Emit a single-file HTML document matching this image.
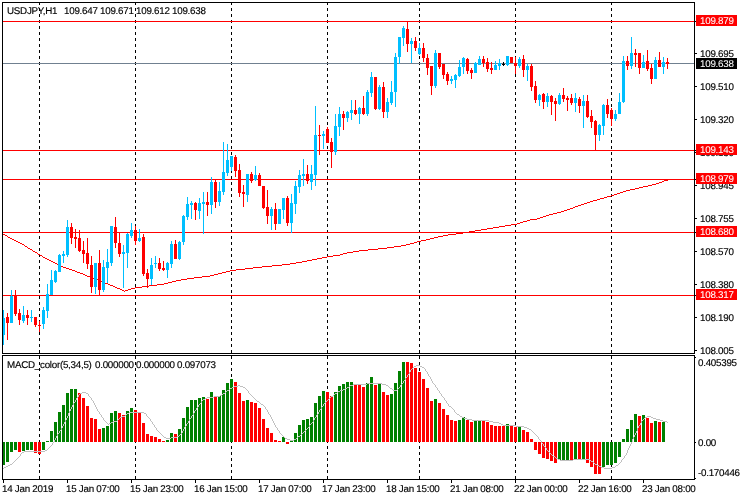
<!DOCTYPE html><html><head><meta charset="utf-8"><title>USDJPY H1</title><style>
html,body{margin:0;padding:0;background:#fff;}
#c{position:relative;width:740px;height:500px;overflow:hidden;background:#fff;font-family:"Liberation Sans",sans-serif;font-size:9.8px;letter-spacing:-0.26px;-webkit-text-stroke:0.15px #000;color:#000;line-height:10px;}
#c svg{position:absolute;left:0;top:0;}
.t{text-rendering:geometricPrecision;position:absolute;white-space:pre;height:10px;}
.w{color:#fff;-webkit-text-stroke:0.05px #fff;}
</style></head><body><div id="c">
<svg width="740" height="500" viewBox="0 0 740 500" shape-rendering="crispEdges">
<line x1="39.5" y1="2" x2="39.5" y2="353" stroke="#000" stroke-width="1" stroke-dasharray="3 3"/>
<line x1="39.5" y1="356" x2="39.5" y2="479" stroke="#000" stroke-width="1" stroke-dasharray="3 3"/>
<line x1="135.5" y1="2" x2="135.5" y2="353" stroke="#000" stroke-width="1" stroke-dasharray="3 3"/>
<line x1="135.5" y1="356" x2="135.5" y2="479" stroke="#000" stroke-width="1" stroke-dasharray="3 3"/>
<line x1="231.5" y1="2" x2="231.5" y2="353" stroke="#000" stroke-width="1" stroke-dasharray="3 3"/>
<line x1="231.5" y1="356" x2="231.5" y2="479" stroke="#000" stroke-width="1" stroke-dasharray="3 3"/>
<line x1="327.5" y1="2" x2="327.5" y2="353" stroke="#000" stroke-width="1" stroke-dasharray="3 3"/>
<line x1="327.5" y1="356" x2="327.5" y2="479" stroke="#000" stroke-width="1" stroke-dasharray="3 3"/>
<line x1="419.5" y1="2" x2="419.5" y2="353" stroke="#000" stroke-width="1" stroke-dasharray="3 3"/>
<line x1="419.5" y1="356" x2="419.5" y2="479" stroke="#000" stroke-width="1" stroke-dasharray="3 3"/>
<line x1="515.5" y1="2" x2="515.5" y2="353" stroke="#000" stroke-width="1" stroke-dasharray="3 3"/>
<line x1="515.5" y1="356" x2="515.5" y2="479" stroke="#000" stroke-width="1" stroke-dasharray="3 3"/>
<line x1="611.5" y1="2" x2="611.5" y2="353" stroke="#000" stroke-width="1" stroke-dasharray="3 3"/>
<line x1="611.5" y1="356" x2="611.5" y2="479" stroke="#000" stroke-width="1" stroke-dasharray="3 3"/>
<rect x="3" y="63" width="691" height="1" fill="#708090"/>
<rect x="3" y="21" width="691" height="1" fill="#FF0000"/>
<rect x="3" y="150" width="691" height="1" fill="#FF0000"/>
<rect x="3" y="179" width="691" height="1" fill="#FF0000"/>
<rect x="3" y="232" width="691" height="1" fill="#FF0000"/>
<rect x="3" y="295" width="691" height="1" fill="#FF0000"/>
<path d="M3 234.5h2M5 235.5h2M7 236.5h1M8 237.5h2M10 238.5h2M12 239.5h2M14 240.5h2M16 241.5h2M18 242.5h2M20 243.5h2M22 244.5h2M24 245.5h1M25 246.5h2M27 247.5h1M28 248.5h2M30 249.5h2M32 250.5h1M33 251.5h2M35 252.5h2M37 253.5h1M38 254.5h2M40 255.5h2M42 256.5h1M43 257.5h2M45 258.5h2M47 259.5h2M49 260.5h2M51 261.5h2M53 262.5h2M55 263.5h2M57 264.5h2M59 265.5h2M61 266.5h2M63 267.5h3M66 268.5h3M69 269.5h3M72 270.5h3M75 271.5h2M77 272.5h3M80 273.5h3M83 274.5h2M85 275.5h2M87 276.5h3M90 277.5h2M92 278.5h3M95 279.5h3M98 280.5h2M100 281.5h3M103 282.5h2M105 283.5h3M108 284.5h2M110 285.5h3M113 286.5h2M115 287.5h2M117 288.5h3M120 289.5h2M122 290.5h2M124 291.5h1M125 290.5h3M128 289.5h3M131 288.5h4M135 287.5h7M142 286.5h7M149 285.5h8M157 284.5h7M164 283.5h4M168 282.5h4M172 281.5h4M176 280.5h5M181 279.5h6M187 278.5h7M194 277.5h8M202 276.5h8M210 275.5h4M214 274.5h4M218 273.5h4M222 272.5h4M226 271.5h4M230 270.5h6M236 269.5h9M245 268.5h8M253 267.5h9M262 266.5h10M272 265.5h10M282 264.5h8M290 263.5h6M296 262.5h6M302 261.5h5M307 260.5h5M312 259.5h5M317 258.5h5M322 257.5h5M327 256.5h6M333 255.5h7M340 254.5h3M343 253.5h4M347 252.5h6M353 251.5h6M359 250.5h9M368 249.5h10M378 248.5h9M387 247.5h7M394 246.5h7M401 245.5h5M406 244.5h4M410 243.5h4M414 242.5h3M417 241.5h4M421 240.5h5M426 239.5h4M430 238.5h4M434 237.5h4M438 236.5h5M443 235.5h5M448 234.5h8M456 233.5h7M463 232.5h6M469 231.5h6M475 230.5h6M481 229.5h6M487 228.5h6M493 227.5h6M499 226.5h6M505 225.5h6M511 224.5h6M517 223.5h3M520 222.5h3M523 221.5h4M527 220.5h3M530 219.5h7M537 218.5h3M540 217.5h3M543 216.5h3M546 215.5h3M549 214.5h4M553 213.5h4M557 212.5h4M561 211.5h3M564 210.5h3M567 209.5h3M570 208.5h3M573 207.5h2M575 206.5h3M578 205.5h3M581 204.5h3M584 203.5h3M587 202.5h3M590 201.5h3M593 200.5h4M597 199.5h3M600 198.5h4M604 197.5h3M607 196.5h4M611 195.5h3M614 194.5h3M617 193.5h3M620 192.5h3M623 191.5h3M626 190.5h4M630 189.5h5M635 188.5h4M639 187.5h4M643 186.5h5M648 185.5h4M652 184.5h4M656 183.5h3M659 182.5h3M662 181.5h2M664 180.5h4" fill="none" stroke="#FF0000" stroke-width="1"/>
<rect x="3" y="310" width="1" height="35" fill="#00BFFF"/>
<rect x="3" y="318" width="2" height="17" fill="#00BFFF"/>
<rect x="7" y="313" width="1" height="27" fill="#FF0000"/>
<rect x="6" y="317" width="3" height="6" fill="#FF0000"/>
<rect x="11" y="290" width="1" height="33" fill="#00BFFF"/>
<rect x="10" y="296" width="3" height="27" fill="#00BFFF"/>
<rect x="15" y="290" width="1" height="26" fill="#FF0000"/>
<rect x="14" y="296" width="3" height="18" fill="#FF0000"/>
<rect x="19" y="309" width="1" height="16" fill="#FF0000"/>
<rect x="18" y="313" width="3" height="7" fill="#FF0000"/>
<rect x="23" y="306" width="1" height="17" fill="#00BFFF"/>
<rect x="22" y="315" width="3" height="6" fill="#00BFFF"/>
<rect x="27" y="310" width="1" height="15" fill="#FF0000"/>
<rect x="26" y="315" width="3" height="3" fill="#FF0000"/>
<rect x="31" y="310" width="1" height="12" fill="#00BFFF"/>
<rect x="30" y="317" width="3" height="1" fill="#00BFFF"/>
<rect x="35" y="317" width="1" height="10" fill="#FF0000"/>
<rect x="34" y="317" width="3" height="8" fill="#FF0000"/>
<rect x="39" y="321" width="1" height="11" fill="#FF0000"/>
<rect x="38" y="325" width="3" height="1" fill="#FF0000"/>
<rect x="43" y="307" width="1" height="22" fill="#00BFFF"/>
<rect x="42" y="310" width="3" height="14" fill="#00BFFF"/>
<rect x="47" y="284" width="1" height="34" fill="#00BFFF"/>
<rect x="46" y="294" width="3" height="17" fill="#00BFFF"/>
<rect x="51" y="270" width="1" height="25" fill="#00BFFF"/>
<rect x="50" y="280" width="3" height="15" fill="#00BFFF"/>
<rect x="55" y="270" width="1" height="13" fill="#00BFFF"/>
<rect x="54" y="271" width="3" height="11" fill="#00BFFF"/>
<rect x="59" y="254" width="1" height="18" fill="#00BFFF"/>
<rect x="58" y="255" width="3" height="17" fill="#00BFFF"/>
<rect x="63" y="251" width="1" height="12" fill="#00BFFF"/>
<rect x="62" y="254" width="3" height="2" fill="#00BFFF"/>
<rect x="67" y="220" width="1" height="37" fill="#00BFFF"/>
<rect x="66" y="227" width="3" height="28" fill="#00BFFF"/>
<rect x="71" y="223" width="1" height="21" fill="#FF0000"/>
<rect x="70" y="227" width="3" height="11" fill="#FF0000"/>
<rect x="75" y="229" width="1" height="19" fill="#FF0000"/>
<rect x="74" y="237" width="3" height="2" fill="#FF0000"/>
<rect x="79" y="230" width="1" height="22" fill="#FF0000"/>
<rect x="78" y="238" width="3" height="13" fill="#FF0000"/>
<rect x="83" y="241" width="1" height="22" fill="#FF0000"/>
<rect x="82" y="250" width="3" height="4" fill="#FF0000"/>
<rect x="87" y="238" width="1" height="31" fill="#FF0000"/>
<rect x="86" y="253" width="3" height="11" fill="#FF0000"/>
<rect x="91" y="256" width="1" height="37" fill="#FF0000"/>
<rect x="90" y="265" width="3" height="22" fill="#FF0000"/>
<rect x="95" y="263" width="1" height="31" fill="#00BFFF"/>
<rect x="94" y="263" width="3" height="24" fill="#00BFFF"/>
<rect x="99" y="250" width="1" height="45" fill="#FF0000"/>
<rect x="98" y="263" width="3" height="27" fill="#FF0000"/>
<rect x="103" y="260" width="1" height="32" fill="#00BFFF"/>
<rect x="102" y="267" width="3" height="23" fill="#00BFFF"/>
<rect x="107" y="249" width="1" height="34" fill="#00BFFF"/>
<rect x="106" y="262" width="3" height="6" fill="#00BFFF"/>
<rect x="111" y="226" width="1" height="40" fill="#00BFFF"/>
<rect x="110" y="226" width="3" height="37" fill="#00BFFF"/>
<rect x="115" y="217" width="1" height="31" fill="#FF0000"/>
<rect x="114" y="227" width="3" height="16" fill="#FF0000"/>
<rect x="119" y="233" width="1" height="24" fill="#FF0000"/>
<rect x="118" y="243" width="3" height="11" fill="#FF0000"/>
<rect x="123" y="245" width="1" height="43" fill="#00BFFF"/>
<rect x="122" y="252" width="3" height="2" fill="#00BFFF"/>
<rect x="127" y="233" width="1" height="35" fill="#00BFFF"/>
<rect x="126" y="234" width="3" height="19" fill="#00BFFF"/>
<rect x="131" y="223" width="1" height="15" fill="#00BFFF"/>
<rect x="130" y="230" width="3" height="6" fill="#00BFFF"/>
<rect x="135" y="226" width="1" height="19" fill="#FF0000"/>
<rect x="134" y="230" width="3" height="11" fill="#FF0000"/>
<rect x="139" y="229" width="1" height="13" fill="#00BFFF"/>
<rect x="138" y="238" width="3" height="3" fill="#00BFFF"/>
<rect x="143" y="234" width="1" height="42" fill="#FF0000"/>
<rect x="142" y="237" width="3" height="37" fill="#FF0000"/>
<rect x="147" y="269" width="1" height="19" fill="#FF0000"/>
<rect x="146" y="273" width="3" height="6" fill="#FF0000"/>
<rect x="151" y="258" width="1" height="27" fill="#00BFFF"/>
<rect x="150" y="265" width="3" height="14" fill="#00BFFF"/>
<rect x="155" y="256" width="1" height="12" fill="#00BFFF"/>
<rect x="154" y="263" width="3" height="1" fill="#00BFFF"/>
<rect x="159" y="258" width="1" height="13" fill="#FF0000"/>
<rect x="158" y="263" width="3" height="6" fill="#FF0000"/>
<rect x="163" y="261" width="1" height="10" fill="#FF0000"/>
<rect x="162" y="268" width="3" height="2" fill="#FF0000"/>
<rect x="167" y="262" width="1" height="16" fill="#00BFFF"/>
<rect x="166" y="263" width="3" height="7" fill="#00BFFF"/>
<rect x="171" y="241" width="1" height="27" fill="#00BFFF"/>
<rect x="170" y="244" width="3" height="20" fill="#00BFFF"/>
<rect x="175" y="240" width="1" height="19" fill="#FF0000"/>
<rect x="174" y="244" width="3" height="15" fill="#FF0000"/>
<rect x="179" y="241" width="1" height="19" fill="#00BFFF"/>
<rect x="178" y="242" width="3" height="17" fill="#00BFFF"/>
<rect x="183" y="215" width="1" height="30" fill="#00BFFF"/>
<rect x="182" y="216" width="3" height="26" fill="#00BFFF"/>
<rect x="187" y="197" width="1" height="23" fill="#00BFFF"/>
<rect x="186" y="204" width="3" height="13" fill="#00BFFF"/>
<rect x="191" y="201" width="1" height="18" fill="#00BFFF"/>
<rect x="190" y="203" width="3" height="2" fill="#00BFFF"/>
<rect x="195" y="202" width="1" height="18" fill="#FF0000"/>
<rect x="194" y="203" width="3" height="7" fill="#FF0000"/>
<rect x="199" y="198" width="1" height="21" fill="#00BFFF"/>
<rect x="198" y="203" width="3" height="8" fill="#00BFFF"/>
<rect x="203" y="192" width="1" height="42" fill="#00BFFF"/>
<rect x="202" y="202" width="3" height="2" fill="#00BFFF"/>
<rect x="207" y="192" width="1" height="24" fill="#FF0000"/>
<rect x="206" y="202" width="3" height="3" fill="#FF0000"/>
<rect x="211" y="177" width="1" height="37" fill="#00BFFF"/>
<rect x="210" y="182" width="3" height="23" fill="#00BFFF"/>
<rect x="215" y="180" width="1" height="28" fill="#FF0000"/>
<rect x="214" y="182" width="3" height="20" fill="#FF0000"/>
<rect x="219" y="182" width="1" height="24" fill="#00BFFF"/>
<rect x="218" y="191" width="3" height="11" fill="#00BFFF"/>
<rect x="223" y="142" width="1" height="53" fill="#00BFFF"/>
<rect x="222" y="172" width="3" height="20" fill="#00BFFF"/>
<rect x="227" y="144" width="1" height="32" fill="#00BFFF"/>
<rect x="226" y="160" width="3" height="13" fill="#00BFFF"/>
<rect x="231" y="156" width="1" height="15" fill="#00BFFF"/>
<rect x="230" y="156" width="3" height="11" fill="#00BFFF"/>
<rect x="235" y="155" width="1" height="22" fill="#FF0000"/>
<rect x="234" y="157" width="3" height="14" fill="#FF0000"/>
<rect x="239" y="164" width="1" height="33" fill="#FF0000"/>
<rect x="238" y="170" width="3" height="23" fill="#FF0000"/>
<rect x="243" y="185" width="1" height="22" fill="#FF0000"/>
<rect x="242" y="192" width="3" height="2" fill="#FF0000"/>
<rect x="247" y="174" width="1" height="28" fill="#00BFFF"/>
<rect x="246" y="174" width="3" height="21" fill="#00BFFF"/>
<rect x="251" y="172" width="1" height="11" fill="#FF0000"/>
<rect x="250" y="174" width="3" height="7" fill="#FF0000"/>
<rect x="255" y="166" width="1" height="15" fill="#00BFFF"/>
<rect x="254" y="175" width="3" height="5" fill="#00BFFF"/>
<rect x="259" y="173" width="1" height="13" fill="#FF0000"/>
<rect x="258" y="175" width="3" height="11" fill="#FF0000"/>
<rect x="263" y="186" width="1" height="23" fill="#FF0000"/>
<rect x="262" y="186" width="3" height="22" fill="#FF0000"/>
<rect x="267" y="190" width="1" height="34" fill="#FF0000"/>
<rect x="266" y="207" width="3" height="9" fill="#FF0000"/>
<rect x="271" y="207" width="1" height="23" fill="#00BFFF"/>
<rect x="270" y="209" width="3" height="7" fill="#00BFFF"/>
<rect x="275" y="203" width="1" height="27" fill="#FF0000"/>
<rect x="274" y="209" width="3" height="15" fill="#FF0000"/>
<rect x="279" y="209" width="1" height="15" fill="#00BFFF"/>
<rect x="278" y="209" width="3" height="15" fill="#00BFFF"/>
<rect x="283" y="198" width="1" height="21" fill="#00BFFF"/>
<rect x="282" y="198" width="3" height="12" fill="#00BFFF"/>
<rect x="287" y="196" width="1" height="30" fill="#FF0000"/>
<rect x="286" y="198" width="3" height="25" fill="#FF0000"/>
<rect x="291" y="194" width="1" height="39" fill="#00BFFF"/>
<rect x="290" y="203" width="3" height="20" fill="#00BFFF"/>
<rect x="295" y="181" width="1" height="33" fill="#00BFFF"/>
<rect x="294" y="186" width="3" height="18" fill="#00BFFF"/>
<rect x="299" y="170" width="1" height="23" fill="#00BFFF"/>
<rect x="298" y="175" width="3" height="12" fill="#00BFFF"/>
<rect x="303" y="159" width="1" height="27" fill="#00BFFF"/>
<rect x="302" y="174" width="3" height="2" fill="#00BFFF"/>
<rect x="307" y="165" width="1" height="19" fill="#FF0000"/>
<rect x="306" y="174" width="3" height="7" fill="#FF0000"/>
<rect x="311" y="165" width="1" height="25" fill="#00BFFF"/>
<rect x="310" y="174" width="3" height="8" fill="#00BFFF"/>
<rect x="315" y="106" width="1" height="80" fill="#00BFFF"/>
<rect x="314" y="135" width="3" height="40" fill="#00BFFF"/>
<rect x="319" y="125" width="1" height="30" fill="#FF0000"/>
<rect x="318" y="135" width="3" height="1" fill="#FF0000"/>
<rect x="323" y="131" width="1" height="18" fill="#00BFFF"/>
<rect x="322" y="134" width="3" height="2" fill="#00BFFF"/>
<rect x="327" y="127" width="1" height="16" fill="#FF0000"/>
<rect x="326" y="129" width="3" height="14" fill="#FF0000"/>
<rect x="331" y="138" width="1" height="30" fill="#FF0000"/>
<rect x="330" y="142" width="3" height="10" fill="#FF0000"/>
<rect x="335" y="114" width="1" height="41" fill="#00BFFF"/>
<rect x="334" y="126" width="3" height="26" fill="#00BFFF"/>
<rect x="339" y="107" width="1" height="29" fill="#00BFFF"/>
<rect x="338" y="114" width="3" height="13" fill="#00BFFF"/>
<rect x="343" y="111" width="1" height="19" fill="#FF0000"/>
<rect x="342" y="114" width="3" height="4" fill="#FF0000"/>
<rect x="347" y="111" width="1" height="11" fill="#00BFFF"/>
<rect x="346" y="112" width="3" height="6" fill="#00BFFF"/>
<rect x="351" y="100" width="1" height="20" fill="#00BFFF"/>
<rect x="350" y="110" width="3" height="3" fill="#00BFFF"/>
<rect x="355" y="100" width="1" height="15" fill="#FF0000"/>
<rect x="354" y="110" width="3" height="4" fill="#FF0000"/>
<rect x="359" y="107" width="1" height="17" fill="#00BFFF"/>
<rect x="358" y="108" width="3" height="6" fill="#00BFFF"/>
<rect x="363" y="96" width="1" height="19" fill="#FF0000"/>
<rect x="362" y="108" width="3" height="6" fill="#FF0000"/>
<rect x="367" y="90" width="1" height="26" fill="#00BFFF"/>
<rect x="366" y="92" width="3" height="22" fill="#00BFFF"/>
<rect x="371" y="72" width="1" height="25" fill="#00BFFF"/>
<rect x="370" y="77" width="3" height="16" fill="#00BFFF"/>
<rect x="375" y="77" width="1" height="33" fill="#FF0000"/>
<rect x="374" y="77" width="3" height="32" fill="#FF0000"/>
<rect x="379" y="85" width="1" height="25" fill="#00BFFF"/>
<rect x="378" y="87" width="3" height="22" fill="#00BFFF"/>
<rect x="383" y="82" width="1" height="36" fill="#FF0000"/>
<rect x="382" y="87" width="3" height="25" fill="#FF0000"/>
<rect x="387" y="98" width="1" height="20" fill="#00BFFF"/>
<rect x="386" y="102" width="3" height="10" fill="#00BFFF"/>
<rect x="391" y="81" width="1" height="24" fill="#00BFFF"/>
<rect x="390" y="92" width="3" height="11" fill="#00BFFF"/>
<rect x="395" y="53" width="1" height="54" fill="#00BFFF"/>
<rect x="394" y="57" width="3" height="35" fill="#00BFFF"/>
<rect x="399" y="37" width="1" height="27" fill="#00BFFF"/>
<rect x="398" y="37" width="3" height="20" fill="#00BFFF"/>
<rect x="403" y="26" width="1" height="20" fill="#00BFFF"/>
<rect x="402" y="28" width="3" height="10" fill="#00BFFF"/>
<rect x="407" y="21" width="1" height="31" fill="#FF0000"/>
<rect x="406" y="29" width="3" height="15" fill="#FF0000"/>
<rect x="411" y="38" width="1" height="25" fill="#00BFFF"/>
<rect x="410" y="41" width="3" height="3" fill="#00BFFF"/>
<rect x="415" y="37" width="1" height="14" fill="#FF0000"/>
<rect x="414" y="41" width="3" height="7" fill="#FF0000"/>
<rect x="419" y="43" width="1" height="12" fill="#00BFFF"/>
<rect x="418" y="48" width="3" height="6" fill="#00BFFF"/>
<rect x="423" y="43" width="1" height="19" fill="#FF0000"/>
<rect x="422" y="48" width="3" height="10" fill="#FF0000"/>
<rect x="427" y="54" width="1" height="21" fill="#FF0000"/>
<rect x="426" y="58" width="3" height="10" fill="#FF0000"/>
<rect x="431" y="66" width="1" height="29" fill="#FF0000"/>
<rect x="430" y="66" width="3" height="20" fill="#FF0000"/>
<rect x="435" y="50" width="1" height="38" fill="#00BFFF"/>
<rect x="434" y="53" width="3" height="33" fill="#00BFFF"/>
<rect x="439" y="53" width="1" height="16" fill="#FF0000"/>
<rect x="438" y="53" width="3" height="14" fill="#FF0000"/>
<rect x="443" y="64" width="1" height="15" fill="#FF0000"/>
<rect x="442" y="64" width="3" height="11" fill="#FF0000"/>
<rect x="447" y="72" width="1" height="13" fill="#FF0000"/>
<rect x="446" y="74" width="3" height="7" fill="#FF0000"/>
<rect x="451" y="76" width="1" height="8" fill="#00BFFF"/>
<rect x="450" y="79" width="3" height="2" fill="#00BFFF"/>
<rect x="455" y="74" width="1" height="14" fill="#00BFFF"/>
<rect x="454" y="75" width="3" height="5" fill="#00BFFF"/>
<rect x="459" y="60" width="1" height="17" fill="#00BFFF"/>
<rect x="458" y="67" width="3" height="9" fill="#00BFFF"/>
<rect x="463" y="57" width="1" height="17" fill="#00BFFF"/>
<rect x="462" y="58" width="3" height="9" fill="#00BFFF"/>
<rect x="467" y="58" width="1" height="16" fill="#FF0000"/>
<rect x="466" y="59" width="3" height="12" fill="#FF0000"/>
<rect x="471" y="68" width="1" height="11" fill="#FF0000"/>
<rect x="470" y="70" width="3" height="3" fill="#FF0000"/>
<rect x="475" y="62" width="1" height="11" fill="#00BFFF"/>
<rect x="474" y="63" width="3" height="10" fill="#00BFFF"/>
<rect x="479" y="56" width="1" height="9" fill="#00BFFF"/>
<rect x="478" y="59" width="3" height="6" fill="#00BFFF"/>
<rect x="483" y="56" width="1" height="11" fill="#FF0000"/>
<rect x="482" y="59" width="3" height="4" fill="#FF0000"/>
<rect x="487" y="58" width="1" height="14" fill="#FF0000"/>
<rect x="486" y="62" width="3" height="7" fill="#FF0000"/>
<rect x="491" y="62" width="1" height="12" fill="#FF0000"/>
<rect x="490" y="68" width="3" height="2" fill="#FF0000"/>
<rect x="495" y="61" width="1" height="9" fill="#00BFFF"/>
<rect x="494" y="65" width="3" height="5" fill="#00BFFF"/>
<rect x="499" y="59" width="1" height="11" fill="#00BFFF"/>
<rect x="498" y="63" width="3" height="3" fill="#00BFFF"/>
<rect x="503" y="62" width="1" height="4" fill="#000"/>
<rect x="502" y="64" width="3" height="1" fill="#000"/>
<rect x="507" y="56" width="1" height="10" fill="#00BFFF"/>
<rect x="506" y="56" width="3" height="9" fill="#00BFFF"/>
<rect x="511" y="57" width="1" height="6" fill="#FF0000"/>
<rect x="510" y="57" width="3" height="6" fill="#FF0000"/>
<rect x="515" y="57" width="1" height="17" fill="#FF0000"/>
<rect x="514" y="63" width="3" height="3" fill="#FF0000"/>
<rect x="519" y="57" width="1" height="11" fill="#00BFFF"/>
<rect x="518" y="59" width="3" height="7" fill="#00BFFF"/>
<rect x="523" y="55" width="1" height="22" fill="#FF0000"/>
<rect x="522" y="59" width="3" height="11" fill="#FF0000"/>
<rect x="527" y="64" width="1" height="17" fill="#00BFFF"/>
<rect x="526" y="66" width="3" height="4" fill="#00BFFF"/>
<rect x="531" y="64" width="1" height="27" fill="#FF0000"/>
<rect x="530" y="66" width="3" height="21" fill="#FF0000"/>
<rect x="535" y="81" width="1" height="22" fill="#FF0000"/>
<rect x="534" y="86" width="3" height="14" fill="#FF0000"/>
<rect x="539" y="94" width="1" height="12" fill="#00BFFF"/>
<rect x="538" y="95" width="3" height="5" fill="#00BFFF"/>
<rect x="543" y="93" width="1" height="16" fill="#FF0000"/>
<rect x="542" y="94" width="3" height="8" fill="#FF0000"/>
<rect x="547" y="93" width="1" height="14" fill="#00BFFF"/>
<rect x="546" y="96" width="3" height="6" fill="#00BFFF"/>
<rect x="551" y="95" width="1" height="20" fill="#FF0000"/>
<rect x="550" y="96" width="3" height="6" fill="#FF0000"/>
<rect x="555" y="98" width="1" height="23" fill="#FF0000"/>
<rect x="554" y="101" width="3" height="3" fill="#FF0000"/>
<rect x="559" y="93" width="1" height="12" fill="#00BFFF"/>
<rect x="558" y="95" width="3" height="9" fill="#00BFFF"/>
<rect x="563" y="88" width="1" height="14" fill="#FF0000"/>
<rect x="562" y="95" width="3" height="4" fill="#FF0000"/>
<rect x="567" y="96" width="1" height="15" fill="#FF0000"/>
<rect x="566" y="98" width="3" height="2" fill="#FF0000"/>
<rect x="571" y="94" width="1" height="11" fill="#FF0000"/>
<rect x="570" y="98" width="3" height="5" fill="#FF0000"/>
<rect x="575" y="93" width="1" height="19" fill="#00BFFF"/>
<rect x="574" y="98" width="3" height="5" fill="#00BFFF"/>
<rect x="579" y="97" width="1" height="16" fill="#FF0000"/>
<rect x="578" y="99" width="3" height="7" fill="#FF0000"/>
<rect x="583" y="95" width="1" height="33" fill="#00BFFF"/>
<rect x="582" y="101" width="3" height="5" fill="#00BFFF"/>
<rect x="587" y="95" width="1" height="23" fill="#FF0000"/>
<rect x="586" y="101" width="3" height="16" fill="#FF0000"/>
<rect x="591" y="110" width="1" height="18" fill="#FF0000"/>
<rect x="590" y="116" width="3" height="6" fill="#FF0000"/>
<rect x="595" y="120" width="1" height="31" fill="#FF0000"/>
<rect x="594" y="121" width="3" height="14" fill="#FF0000"/>
<rect x="599" y="124" width="1" height="17" fill="#00BFFF"/>
<rect x="598" y="125" width="3" height="10" fill="#00BFFF"/>
<rect x="603" y="104" width="1" height="31" fill="#00BFFF"/>
<rect x="602" y="105" width="3" height="21" fill="#00BFFF"/>
<rect x="607" y="99" width="1" height="19" fill="#FF0000"/>
<rect x="606" y="105" width="3" height="9" fill="#FF0000"/>
<rect x="611" y="108" width="1" height="18" fill="#FF0000"/>
<rect x="610" y="110" width="3" height="9" fill="#FF0000"/>
<rect x="615" y="110" width="1" height="11" fill="#00BFFF"/>
<rect x="614" y="114" width="3" height="5" fill="#00BFFF"/>
<rect x="619" y="93" width="1" height="21" fill="#00BFFF"/>
<rect x="618" y="102" width="3" height="12" fill="#00BFFF"/>
<rect x="623" y="56" width="1" height="47" fill="#00BFFF"/>
<rect x="622" y="61" width="3" height="41" fill="#00BFFF"/>
<rect x="627" y="56" width="1" height="14" fill="#FF0000"/>
<rect x="626" y="61" width="3" height="5" fill="#FF0000"/>
<rect x="631" y="37" width="1" height="32" fill="#00BFFF"/>
<rect x="630" y="53" width="3" height="13" fill="#00BFFF"/>
<rect x="635" y="49" width="1" height="18" fill="#FF0000"/>
<rect x="634" y="53" width="3" height="2" fill="#FF0000"/>
<rect x="639" y="53" width="1" height="21" fill="#FF0000"/>
<rect x="638" y="53" width="3" height="15" fill="#FF0000"/>
<rect x="643" y="55" width="1" height="13" fill="#00BFFF"/>
<rect x="642" y="62" width="3" height="6" fill="#00BFFF"/>
<rect x="647" y="50" width="1" height="21" fill="#FF0000"/>
<rect x="646" y="61" width="3" height="8" fill="#FF0000"/>
<rect x="651" y="64" width="1" height="20" fill="#FF0000"/>
<rect x="650" y="68" width="3" height="11" fill="#FF0000"/>
<rect x="655" y="57" width="1" height="22" fill="#00BFFF"/>
<rect x="654" y="60" width="3" height="19" fill="#00BFFF"/>
<rect x="659" y="52" width="1" height="15" fill="#FF0000"/>
<rect x="658" y="60" width="3" height="7" fill="#FF0000"/>
<rect x="663" y="57" width="1" height="17" fill="#00BFFF"/>
<rect x="662" y="62" width="3" height="5" fill="#00BFFF"/>
<rect x="667" y="58" width="1" height="11" fill="#FF0000"/>
<rect x="666" y="62" width="3" height="2" fill="#FF0000"/>
<rect x="3" y="442" width="2" height="23" fill="#008000"/>
<rect x="6" y="442" width="3" height="20" fill="#008000"/>
<rect x="10" y="442" width="3" height="10" fill="#008000"/>
<rect x="14" y="442" width="3" height="8" fill="#008000"/>
<rect x="18" y="442" width="3" height="10" fill="#FF0000"/>
<rect x="22" y="442" width="3" height="9" fill="#008000"/>
<rect x="26" y="442" width="3" height="8" fill="#008000"/>
<rect x="30" y="442" width="3" height="8" fill="#008000"/>
<rect x="34" y="442" width="3" height="11" fill="#FF0000"/>
<rect x="38" y="442" width="3" height="12" fill="#FF0000"/>
<rect x="42" y="442" width="3" height="8" fill="#008000"/>
<rect x="46" y="441" width="3" height="1" fill="#008000"/>
<rect x="50" y="431" width="3" height="11" fill="#008000"/>
<rect x="54" y="422" width="3" height="20" fill="#008000"/>
<rect x="58" y="412" width="3" height="30" fill="#008000"/>
<rect x="62" y="405" width="3" height="37" fill="#008000"/>
<rect x="66" y="393" width="3" height="49" fill="#008000"/>
<rect x="70" y="389" width="3" height="53" fill="#008000"/>
<rect x="74" y="389" width="3" height="53" fill="#008000"/>
<rect x="78" y="393" width="3" height="49" fill="#FF0000"/>
<rect x="82" y="398" width="3" height="44" fill="#FF0000"/>
<rect x="86" y="406" width="3" height="36" fill="#FF0000"/>
<rect x="90" y="418" width="3" height="24" fill="#FF0000"/>
<rect x="94" y="419" width="3" height="23" fill="#FF0000"/>
<rect x="98" y="429" width="3" height="13" fill="#FF0000"/>
<rect x="102" y="428" width="3" height="14" fill="#008000"/>
<rect x="106" y="426" width="3" height="16" fill="#008000"/>
<rect x="110" y="413" width="3" height="29" fill="#008000"/>
<rect x="114" y="411" width="3" height="31" fill="#008000"/>
<rect x="118" y="413" width="3" height="29" fill="#FF0000"/>
<rect x="122" y="415" width="3" height="27" fill="#FF0000"/>
<rect x="126" y="411" width="3" height="31" fill="#008000"/>
<rect x="130" y="408" width="3" height="34" fill="#008000"/>
<rect x="134" y="410" width="3" height="32" fill="#FF0000"/>
<rect x="138" y="412" width="3" height="30" fill="#FF0000"/>
<rect x="142" y="423" width="3" height="19" fill="#FF0000"/>
<rect x="146" y="434" width="3" height="8" fill="#FF0000"/>
<rect x="150" y="436" width="3" height="6" fill="#FF0000"/>
<rect x="154" y="437" width="3" height="5" fill="#FF0000"/>
<rect x="158" y="439" width="3" height="3" fill="#FF0000"/>
<rect x="162" y="441" width="3" height="1" fill="#FF0000"/>
<rect x="166" y="440" width="3" height="2" fill="#008000"/>
<rect x="170" y="433" width="3" height="9" fill="#008000"/>
<rect x="174" y="434" width="3" height="8" fill="#FF0000"/>
<rect x="178" y="429" width="3" height="13" fill="#008000"/>
<rect x="182" y="418" width="3" height="24" fill="#008000"/>
<rect x="186" y="407" width="3" height="35" fill="#008000"/>
<rect x="190" y="400" width="3" height="42" fill="#008000"/>
<rect x="194" y="400" width="3" height="42" fill="#008000"/>
<rect x="198" y="398" width="3" height="44" fill="#008000"/>
<rect x="202" y="397" width="3" height="45" fill="#008000"/>
<rect x="206" y="399" width="3" height="43" fill="#FF0000"/>
<rect x="210" y="392" width="3" height="50" fill="#008000"/>
<rect x="214" y="397" width="3" height="45" fill="#FF0000"/>
<rect x="218" y="396" width="3" height="46" fill="#008000"/>
<rect x="222" y="390" width="3" height="52" fill="#008000"/>
<rect x="226" y="383" width="3" height="59" fill="#008000"/>
<rect x="230" y="379" width="3" height="63" fill="#008000"/>
<rect x="234" y="382" width="3" height="60" fill="#FF0000"/>
<rect x="238" y="393" width="3" height="49" fill="#FF0000"/>
<rect x="242" y="401" width="3" height="41" fill="#FF0000"/>
<rect x="246" y="400" width="3" height="42" fill="#008000"/>
<rect x="250" y="402" width="3" height="40" fill="#FF0000"/>
<rect x="254" y="403" width="3" height="39" fill="#FF0000"/>
<rect x="258" y="408" width="3" height="34" fill="#FF0000"/>
<rect x="262" y="419" width="3" height="23" fill="#FF0000"/>
<rect x="266" y="428" width="3" height="14" fill="#FF0000"/>
<rect x="270" y="433" width="3" height="9" fill="#FF0000"/>
<rect x="274" y="440" width="3" height="2" fill="#FF0000"/>
<rect x="278" y="441" width="3" height="1" fill="#FF0000"/>
<rect x="282" y="437" width="3" height="5" fill="#008000"/>
<rect x="286" y="442" width="3" height="2" fill="#FF0000"/>
<rect x="290" y="441" width="3" height="1" fill="#008000"/>
<rect x="294" y="433" width="3" height="9" fill="#008000"/>
<rect x="298" y="425" width="3" height="17" fill="#008000"/>
<rect x="302" y="420" width="3" height="22" fill="#008000"/>
<rect x="306" y="419" width="3" height="23" fill="#008000"/>
<rect x="310" y="417" width="3" height="25" fill="#008000"/>
<rect x="314" y="403" width="3" height="39" fill="#008000"/>
<rect x="318" y="396" width="3" height="46" fill="#008000"/>
<rect x="322" y="391" width="3" height="51" fill="#008000"/>
<rect x="326" y="392" width="3" height="50" fill="#FF0000"/>
<rect x="330" y="396" width="3" height="46" fill="#FF0000"/>
<rect x="334" y="392" width="3" height="50" fill="#008000"/>
<rect x="338" y="386" width="3" height="56" fill="#008000"/>
<rect x="342" y="384" width="3" height="58" fill="#008000"/>
<rect x="346" y="382" width="3" height="60" fill="#008000"/>
<rect x="350" y="382" width="3" height="60" fill="#008000"/>
<rect x="354" y="385" width="3" height="57" fill="#FF0000"/>
<rect x="358" y="385" width="3" height="57" fill="#FF0000"/>
<rect x="362" y="387" width="3" height="55" fill="#FF0000"/>
<rect x="366" y="383" width="3" height="59" fill="#008000"/>
<rect x="370" y="377" width="3" height="65" fill="#008000"/>
<rect x="374" y="385" width="3" height="57" fill="#FF0000"/>
<rect x="378" y="384" width="3" height="58" fill="#008000"/>
<rect x="382" y="392" width="3" height="50" fill="#FF0000"/>
<rect x="386" y="395" width="3" height="47" fill="#FF0000"/>
<rect x="390" y="394" width="3" height="48" fill="#008000"/>
<rect x="394" y="383" width="3" height="59" fill="#008000"/>
<rect x="398" y="371" width="3" height="71" fill="#008000"/>
<rect x="402" y="362" width="3" height="80" fill="#008000"/>
<rect x="406" y="362" width="3" height="80" fill="#FF0000"/>
<rect x="410" y="363" width="3" height="79" fill="#FF0000"/>
<rect x="414" y="368" width="3" height="74" fill="#FF0000"/>
<rect x="418" y="372" width="3" height="70" fill="#FF0000"/>
<rect x="422" y="379" width="3" height="63" fill="#FF0000"/>
<rect x="426" y="388" width="3" height="54" fill="#FF0000"/>
<rect x="430" y="401" width="3" height="41" fill="#FF0000"/>
<rect x="434" y="399" width="3" height="43" fill="#008000"/>
<rect x="438" y="403" width="3" height="39" fill="#FF0000"/>
<rect x="442" y="409" width="3" height="33" fill="#FF0000"/>
<rect x="446" y="415" width="3" height="27" fill="#FF0000"/>
<rect x="450" y="420" width="3" height="22" fill="#FF0000"/>
<rect x="454" y="421" width="3" height="21" fill="#FF0000"/>
<rect x="458" y="420" width="3" height="22" fill="#008000"/>
<rect x="462" y="417" width="3" height="25" fill="#008000"/>
<rect x="466" y="420" width="3" height="22" fill="#FF0000"/>
<rect x="470" y="422" width="3" height="20" fill="#FF0000"/>
<rect x="474" y="421" width="3" height="21" fill="#008000"/>
<rect x="478" y="421" width="3" height="21" fill="#008000"/>
<rect x="482" y="421" width="3" height="21" fill="#FF0000"/>
<rect x="486" y="422" width="3" height="20" fill="#FF0000"/>
<rect x="490" y="425" width="3" height="17" fill="#FF0000"/>
<rect x="494" y="426" width="3" height="16" fill="#FF0000"/>
<rect x="498" y="426" width="3" height="16" fill="#FF0000"/>
<rect x="502" y="426" width="3" height="16" fill="#FF0000"/>
<rect x="506" y="424" width="3" height="18" fill="#008000"/>
<rect x="510" y="426" width="3" height="16" fill="#FF0000"/>
<rect x="514" y="427" width="3" height="15" fill="#FF0000"/>
<rect x="518" y="427" width="3" height="15" fill="#008000"/>
<rect x="522" y="430" width="3" height="12" fill="#FF0000"/>
<rect x="526" y="432" width="3" height="10" fill="#FF0000"/>
<rect x="530" y="439" width="3" height="3" fill="#FF0000"/>
<rect x="534" y="442" width="3" height="8" fill="#FF0000"/>
<rect x="538" y="442" width="3" height="12" fill="#FF0000"/>
<rect x="542" y="442" width="3" height="16" fill="#FF0000"/>
<rect x="546" y="442" width="3" height="17" fill="#FF0000"/>
<rect x="550" y="442" width="3" height="19" fill="#FF0000"/>
<rect x="554" y="442" width="3" height="21" fill="#FF0000"/>
<rect x="558" y="442" width="3" height="18" fill="#008000"/>
<rect x="562" y="442" width="3" height="18" fill="#008000"/>
<rect x="566" y="442" width="3" height="18" fill="#008000"/>
<rect x="570" y="442" width="3" height="18" fill="#FF0000"/>
<rect x="574" y="442" width="3" height="17" fill="#008000"/>
<rect x="578" y="442" width="3" height="17" fill="#FF0000"/>
<rect x="582" y="442" width="3" height="17" fill="#008000"/>
<rect x="586" y="442" width="3" height="21" fill="#FF0000"/>
<rect x="590" y="442" width="3" height="25" fill="#FF0000"/>
<rect x="594" y="442" width="3" height="32" fill="#FF0000"/>
<rect x="598" y="442" width="3" height="32" fill="#FF0000"/>
<rect x="602" y="442" width="3" height="25" fill="#008000"/>
<rect x="606" y="442" width="3" height="23" fill="#008000"/>
<rect x="610" y="442" width="3" height="23" fill="#008000"/>
<rect x="614" y="442" width="3" height="21" fill="#008000"/>
<rect x="618" y="442" width="3" height="15" fill="#008000"/>
<rect x="622" y="439" width="3" height="3" fill="#008000"/>
<rect x="626" y="429" width="3" height="13" fill="#008000"/>
<rect x="630" y="420" width="3" height="22" fill="#008000"/>
<rect x="634" y="414" width="3" height="28" fill="#008000"/>
<rect x="638" y="416" width="3" height="26" fill="#FF0000"/>
<rect x="642" y="415" width="3" height="27" fill="#008000"/>
<rect x="646" y="418" width="3" height="24" fill="#FF0000"/>
<rect x="650" y="423" width="3" height="19" fill="#FF0000"/>
<rect x="654" y="421" width="3" height="21" fill="#008000"/>
<rect x="658" y="422" width="3" height="20" fill="#FF0000"/>
<rect x="662" y="422" width="3" height="20" fill="#008000"/>
<path d="M3 468.5h1M4 467.5h2M6 466.5h2M8 465.5h2M10 464.5h2M12 463.5h1M13 462.5h1M14 461.5h1M15 460.5h1M16 459.5h1M17 458.5h1M18 457.5h1M19 456.5h1M20.5 454v2M21 453.5h1M22 452.5h2M24 451.5h21M45 450.5h2M47 449.5h1M48 448.5h1M49 447.5h1M50 446.5h1M51 445.5h1M52.5 443v2M53 442.5h1M54.5 440v2M55.5 438v2M56.5 436v2M57.5 434v2M58 433.5h1M59.5 431v2M60 430.5h1M61.5 428v2M62.5 426v2M63.5 424v2M64.5 422v2M65.5 420v2M66.5 418v2M67.5 416v2M68.5 413v3M69.5 411v2M70.5 409v2M71.5 407v2M72.5 405v2M73.5 403v2M74 402.5h1M75.5 400v2M76.5 398v2M77 397.5h1M78.5 395v2M79 394.5h1M80 393.5h2M82 392.5h4M86 393.5h2M88.5 394v2M89 396.5h1M90 397.5h1M91.5 398v2M92 400.5h1M93.5 401v2M94.5 403v2M95.5 405v2M96.5 407v2M97.5 409v2M98 411.5h1M99.5 412v2M100 414.5h1M101.5 415v2M102 417.5h1M103.5 418v2M104 420.5h1M105 421.5h1M106 422.5h1M107 423.5h1M108 424.5h1M109 423.5h2M111 422.5h2M113 421.5h4M117 420.5h1M118 419.5h1M119 418.5h1M120 417.5h2M122 416.5h3M125 415.5h1M126 414.5h1M127 413.5h2M129 412.5h15M144 413.5h2M146.5 414v2M147 416.5h1M148 417.5h1M149 418.5h1M150.5 419v2M151 421.5h1M152.5 422v2M153 424.5h1M154.5 425v2M155 427.5h1M156.5 428v2M157 430.5h1M158 431.5h1M159 432.5h1M160 433.5h1M161 434.5h1M162 435.5h1M163 436.5h1M164 437.5h2M166 438.5h5M171 437.5h6M177 436.5h2M179 435.5h1M180 434.5h1M181 433.5h1M182.5 431v2M183.5 429v2M184.5 427v2M185 426.5h1M186.5 424v2M187 423.5h1M188.5 421v2M189.5 419v2M190 418.5h1M191.5 416v2M192 415.5h1M193.5 413v2M194.5 411v2M195 410.5h1M196.5 408v2M197 407.5h1M198.5 405v2M199 404.5h1M200 403.5h1M201.5 401v2M202 400.5h1M203 399.5h2M205 398.5h2M207 397.5h7M214 396.5h6M220 395.5h2M222 394.5h1M223 393.5h2M225 392.5h1M226 391.5h1M227 390.5h2M229 389.5h1M230 388.5h2M232 387.5h2M234 386.5h4M238 385.5h2M240 386.5h3M243 387.5h2M245 388.5h1M246 389.5h1M247 390.5h1M248.5 391v2M249 393.5h1M250 394.5h1M251 395.5h1M252 396.5h1M253 397.5h1M254 398.5h1M255 399.5h1M256 400.5h1M257 401.5h2M259 402.5h1M260 403.5h1M261 404.5h2M263 405.5h1M264 406.5h1M265.5 407v2M266 409.5h1M267.5 410v2M268.5 412v2M269 414.5h1M270.5 415v2M271.5 417v2M272.5 419v2M273.5 421v2M274.5 423v2M275.5 425v2M276 427.5h1M277.5 428v2M278 430.5h1M279.5 431v2M280 433.5h1M281 434.5h1M282 435.5h1M283 436.5h1M284 437.5h1M285 438.5h2M287 439.5h3M290 440.5h4M294 439.5h2M296 438.5h1M297 437.5h1M298 436.5h2M300 435.5h1M301 434.5h1M302 433.5h1M303 432.5h1M304 431.5h1M305 430.5h1M306 429.5h1M307 428.5h1M308 427.5h1M309.5 425v2M310 424.5h1M311 423.5h1M312 422.5h1M313.5 420v2M314.5 418v2M315 417.5h1M316.5 415v2M317 414.5h1M318.5 412v2M319.5 410v2M320 409.5h1M321.5 407v2M322 406.5h1M323.5 404v2M324 403.5h1M325 402.5h1M326 401.5h1M327 400.5h1M328 399.5h1M329 398.5h1M330 397.5h1M331 396.5h2M333 395.5h1M334 394.5h1M335 393.5h2M337 392.5h1M338 391.5h2M340 390.5h3M343 389.5h2M345 388.5h2M347 387.5h2M349 386.5h1M350 385.5h3M353 384.5h14M367 383.5h15M382 384.5h4M386 385.5h2M388 386.5h1M389 387.5h1M390 388.5h2M392 389.5h1M393 390.5h4M397 389.5h1M398 388.5h1M399 387.5h1M400.5 385v2M401 384.5h1M402 383.5h1M403.5 381v2M404 380.5h1M405.5 378v2M406 377.5h1M407.5 375v2M408 374.5h1M409.5 372v2M410.5 370v2M411 369.5h1M412 368.5h1M413 367.5h1M414 366.5h2M416 365.5h4M420 366.5h2M422 367.5h2M424 368.5h1M425.5 369v2M426 371.5h1M427.5 372v2M428.5 374v2M429 376.5h1M430.5 377v2M431.5 379v2M432.5 381v2M433 383.5h1M434 384.5h1M435.5 385v2M436 387.5h1M437.5 388v2M438 390.5h1M439.5 391v2M440 393.5h1M441.5 394v2M442 396.5h1M443 397.5h1M444.5 398v2M445 400.5h1M446.5 401v2M447 403.5h1M448.5 404v2M449 406.5h2M451 407.5h1M452 408.5h1M453 409.5h1M454.5 410v2M455 412.5h1M456 413.5h1M457 414.5h2M459 415.5h1M460 416.5h2M462 417.5h2M464 418.5h3M467 419.5h5M472 420.5h17M489 421.5h4M493 422.5h6M499 423.5h2M501 424.5h2M503 425.5h13M516 426.5h8M524 427.5h3M527 428.5h2M529 429.5h2M531 430.5h1M532 431.5h1M533 432.5h1M534 433.5h1M535 434.5h1M536 435.5h1M537 436.5h1M538.5 437v2M539 439.5h1M540 440.5h1M541.5 441v2M542 443.5h1M543.5 444v2M544 446.5h1M545 447.5h1M546.5 448v2M547 450.5h1M548 451.5h1M549 452.5h1M550 453.5h1M551 454.5h1M552 455.5h1M553 456.5h2M555 457.5h1M556 458.5h2M558 459.5h2M560 460.5h13M573 459.5h17M590 460.5h1M591 461.5h2M593 462.5h1M594 463.5h1M595 464.5h2M597 465.5h2M599 466.5h2M601 467.5h3M604 468.5h8M612 467.5h3M615 466.5h1M616 465.5h2M618 464.5h1M619 463.5h1M620 462.5h1M621.5 460v2M622 459.5h1M623 458.5h1M624.5 456v2M625 455.5h1M626.5 453v2M627.5 450v3M628.5 448v2M629.5 446v2M630.5 444v2M631.5 442v2M632.5 439v3M633.5 437v2M634.5 435v2M635.5 433v2M636.5 431v2M637.5 428v3M638.5 426v2M639 425.5h1M640.5 423v2M641.5 421v2M642 420.5h1M643 419.5h1M644 418.5h1M645 417.5h2M647 416.5h4M651 417.5h2M653 418.5h3M656 419.5h4M660 420.5h3M663 421.5h4M667 422.5h1" fill="none" stroke="#C0C0C0" stroke-width="1"/>
<rect x="2" y="2" width="693" height="1" fill="#000"/>
<rect x="2" y="353" width="693" height="1" fill="#000"/>
<rect x="2" y="2" width="1" height="352" fill="#000"/>
<rect x="694" y="2" width="1" height="352" fill="#000"/>
<rect x="2" y="355" width="693" height="1" fill="#000"/>
<rect x="2" y="479" width="693" height="1" fill="#000"/>
<rect x="2" y="355" width="1" height="125" fill="#000"/>
<rect x="694" y="355" width="1" height="125" fill="#000"/>
<rect x="695" y="53" width="2" height="1" fill="#000"/>
<rect x="695" y="86" width="2" height="1" fill="#000"/>
<rect x="695" y="119" width="2" height="1" fill="#000"/>
<rect x="695" y="152" width="2" height="1" fill="#000"/>
<rect x="695" y="185" width="2" height="1" fill="#000"/>
<rect x="695" y="218" width="2" height="1" fill="#000"/>
<rect x="695" y="251" width="2" height="1" fill="#000"/>
<rect x="695" y="284" width="2" height="1" fill="#000"/>
<rect x="695" y="317" width="2" height="1" fill="#000"/>
<rect x="695" y="350" width="2" height="1" fill="#000"/>
<rect x="695" y="357" width="1" height="1" fill="#000"/>
<rect x="695" y="442" width="1" height="1" fill="#000"/>
<rect x="695" y="478" width="1" height="1" fill="#000"/>
<rect x="3" y="480" width="1" height="3" fill="#000"/>
<rect x="67" y="480" width="1" height="3" fill="#000"/>
<rect x="131" y="480" width="1" height="3" fill="#000"/>
<rect x="195" y="480" width="1" height="3" fill="#000"/>
<rect x="259" y="480" width="1" height="3" fill="#000"/>
<rect x="323" y="480" width="1" height="3" fill="#000"/>
<rect x="387" y="480" width="1" height="3" fill="#000"/>
<rect x="451" y="480" width="1" height="3" fill="#000"/>
<rect x="515" y="480" width="1" height="3" fill="#000"/>
<rect x="579" y="480" width="1" height="3" fill="#000"/>
<rect x="643" y="480" width="1" height="3" fill="#000"/>
<rect x="695" y="21" width="1" height="1" fill="#000"/>
<rect x="695" y="150" width="1" height="1" fill="#000"/>
<rect x="695" y="179" width="1" height="1" fill="#000"/>
<rect x="695" y="232" width="1" height="1" fill="#000"/>
<rect x="695" y="295" width="1" height="1" fill="#000"/>
</svg>
<div class="t " style="left:7px;top:7px">USDJPY,H1</div>
<div class="t " style="left:64px;top:7px">109.647</div>
<div class="t " style="left:100px;top:7px">109.671</div>
<div class="t " style="left:136px;top:7px">109.612</div>
<div class="t " style="left:172px;top:7px">109.638</div>
<div class="t " style="left:7px;top:361px">MACD_color(5,34,5)</div>
<div class="t " style="left:95px;top:361px">0.000000</div>
<div class="t " style="left:136px;top:361px">0.000000</div>
<div class="t " style="left:177px;top:361px">0.097073</div>
<div class="t " style="left:700px;top:50px">109.695</div>
<div class="t " style="left:700px;top:83px">109.510</div>
<div class="t " style="left:700px;top:116px">109.320</div>
<div class="t " style="left:700px;top:149px">109.130</div>
<div class="t " style="left:700px;top:182px">108.945</div>
<div class="t " style="left:700px;top:215px">108.755</div>
<div class="t " style="left:700px;top:248px">108.570</div>
<div class="t " style="left:700px;top:281px">108.380</div>
<div class="t " style="left:700px;top:314px">108.190</div>
<div class="t " style="left:700px;top:347px">108.005</div>
<div style="position:absolute;left:696px;top:15px;width:41px;height:11px;background:#FF0000"></div>
<div class="t w" style="left:700px;top:17px">109.879</div>
<div style="position:absolute;left:696px;top:144px;width:41px;height:11px;background:#FF0000"></div>
<div class="t w" style="left:700px;top:146px">109.143</div>
<div style="position:absolute;left:696px;top:173px;width:41px;height:11px;background:#FF0000"></div>
<div class="t w" style="left:700px;top:175px">108.979</div>
<div style="position:absolute;left:696px;top:226px;width:41px;height:11px;background:#FF0000"></div>
<div class="t w" style="left:700px;top:228px">108.680</div>
<div style="position:absolute;left:696px;top:289px;width:41px;height:11px;background:#FF0000"></div>
<div class="t w" style="left:700px;top:291px">108.317</div>
<div style="position:absolute;left:696px;top:58px;width:41px;height:11px;background:#000"></div>
<div class="t w" style="left:700px;top:60px">109.638</div>
<div class="t " style="left:698px;top:359px">0.405395</div>
<div class="t " style="left:698px;top:439px">0.00</div>
<div class="t " style="left:698px;top:469px">-0.170446</div>
<div class="t " style="left:2px;top:485px">14 Jan 2019</div>
<div class="t " style="left:66px;top:485px">15 Jan 07:00</div>
<div class="t " style="left:130px;top:485px">15 Jan 23:00</div>
<div class="t " style="left:194px;top:485px">16 Jan 15:00</div>
<div class="t " style="left:258px;top:485px">17 Jan 07:00</div>
<div class="t " style="left:322px;top:485px">17 Jan 23:00</div>
<div class="t " style="left:386px;top:485px">18 Jan 15:00</div>
<div class="t " style="left:450px;top:485px">21 Jan 08:00</div>
<div class="t " style="left:514px;top:485px">22 Jan 00:00</div>
<div class="t " style="left:578px;top:485px">22 Jan 16:00</div>
<div class="t " style="left:642px;top:485px">23 Jan 08:00</div>
</div></body></html>
